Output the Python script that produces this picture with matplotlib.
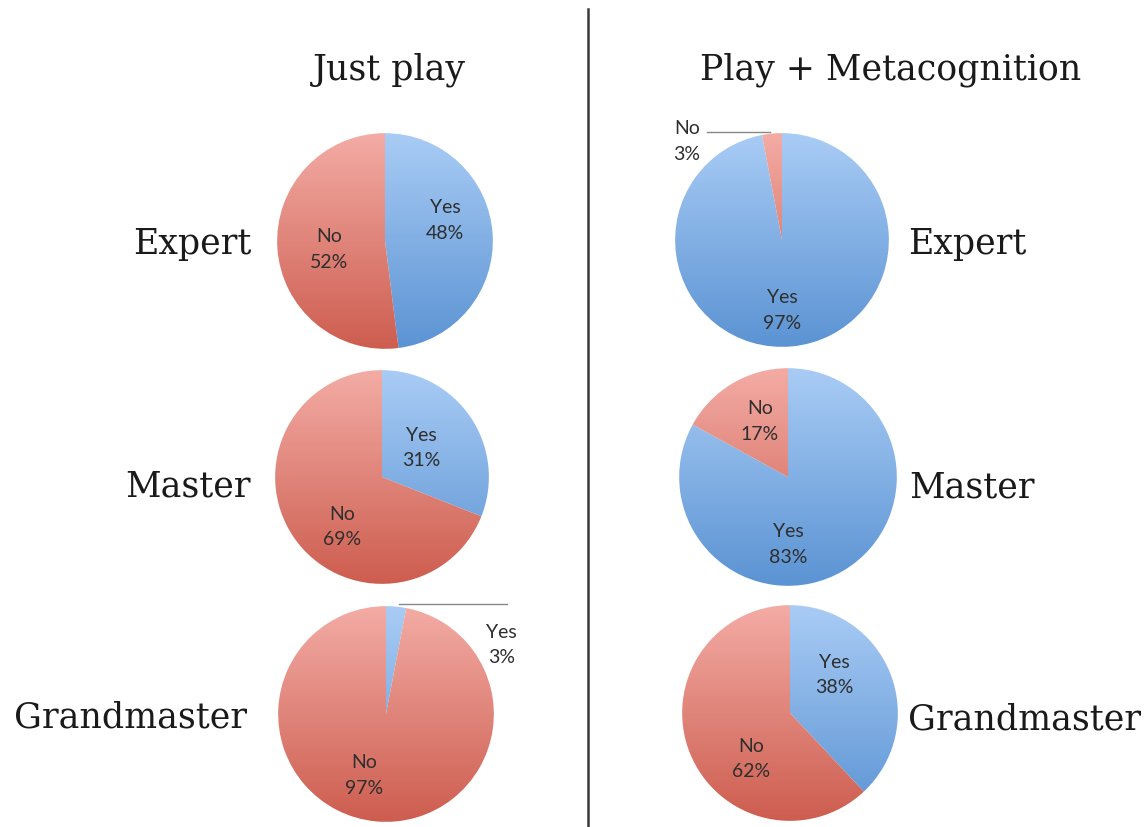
import numpy as np
import matplotlib
matplotlib.use('Agg')
import matplotlib.pyplot as plt
from matplotlib.colors import LinearSegmentedColormap

# data
levels = ['Expert', 'Master', 'Grandmaster']
titles = ['Just play', 'Play + Metacognition']
yes_just = [48, 31, 3]
no_just = [52, 69, 97]
yes_meta = [97, 83, 38]
no_meta = [3, 17, 62]

W, H = 1146, 828
fig = plt.figure(figsize=(W / 100, H / 100), dpi=100)

blue_cmap = LinearSegmentedColormap.from_list('b', ['#5b93d3', '#a9ccf5'])
red_cmap = LinearSegmentedColormap.from_list('r', ['#cd5d4f', '#f3aca5'])
grad = np.linspace(0, 1, 256).reshape(-1, 1)

# pie centres / radius in pixels, label positions in radius units
layout = {
    (0, 0): dict(c=(385, 242), r=110, yes=(0.56, 0.2), no=(-0.52, -0.07)),
    (0, 1): dict(c=(382, 478), r=109, yes=(0.37, 0.28), no=(-0.37, -0.46)),
    (0, 2): dict(c=(386, 715), r=110, yes=None, no=(-0.2, -0.56)),
    (1, 0): dict(c=(782, 241), r=109, yes=(0.0, -0.65), no=None),
    (1, 1): dict(c=(788, 478), r=111, yes=(0.0, -0.61), no=(-0.26, 0.52)),
    (1, 2): dict(c=(790, 714), r=110, yes=(0.41, 0.36), no=(-0.36, -0.42)),
}

label_font = dict(fontsize=14, family=['Lato', 'DejaVu Sans'], color='#2e2e2e',
                  ha='center', va='center', linespacing=1.6)

for col, (yes_vals, no_vals) in enumerate([(yes_just, no_just), (yes_meta, no_meta)]):
    for row in range(3):
        lay = layout[(col, row)]
        cx, cy = lay['c']
        r = lay['r']
        ax = fig.add_axes([(cx - r) / W, 1 - (cy + r) / H, 2 * r / W, 2 * r / H])
        wedges, _ = ax.pie([yes_vals[row], no_vals[row]], startangle=90,
                           counterclock=False, radius=1,
                           colors=['none', 'none'],
                           wedgeprops=dict(linewidth=0))
        for w, cmap in zip(wedges, [blue_cmap, red_cmap]):
            im = ax.imshow(grad, cmap=cmap, extent=[-1, 1, -1, 1],
                           origin='lower', aspect='auto', zorder=1)
            im.set_clip_path(w)
        ax.set_xlim(-1.02, 1.02)
        ax.set_ylim(-1.02, 1.02)
        ax.axis('off')

        if lay['yes'] is not None:
            ax.text(*lay['yes'], f"Yes\n{yes_vals[row]}%", **label_font, zorder=3)
        if lay['no'] is not None:
            ax.text(*lay['no'], f"No\n{no_vals[row]}%", **label_font, zorder=3)

# small slices with leader lines
ax_lg = fig.axes[2]
ax_lg.plot([0.12, 1.12], [1.02, 1.02], color='#888888', lw=1, clip_on=False)
ax_lg.text(1.07, 0.65, f"Yes\n{yes_just[2]}%", **label_font, clip_on=False)

ax_re = fig.axes[3]
ax_re.plot([-0.7, -0.11], [1.01, 1.01], color='#888888', lw=1, clip_on=False)
ax_re.text(-0.89, 0.93, f"No\n{no_meta[0]}%", **label_font, clip_on=False)

# row labels
serif = dict(family='DejaVu Serif', fontsize=25, color='#1a1a1a',
             ha='center', va='center')
left_pos = [(192, 244), (188, 487), (130, 718)]
right_pos = [(967, 244), (972, 488), (1025, 720)]
for lvl, (lx, ly), (rx, ry) in zip(levels, left_pos, right_pos):
    fig.text(lx / W, 1 - ly / H, lvl, **serif)
    fig.text(rx / W, 1 - ry / H, lvl, **serif)

# column titles
fig.text(389 / W, 1 - 70 / H, titles[0], **serif)
fig.text(891 / W, 1 - 70 / H, titles[1], **serif)

# divider
fig.add_artist(plt.Line2D([588 / W, 588 / W], [0, 1 - 10 / H],
                          color='#3a3a3a', lw=1.8))

fig.savefig('out.png', dpi=100, facecolor='white')
